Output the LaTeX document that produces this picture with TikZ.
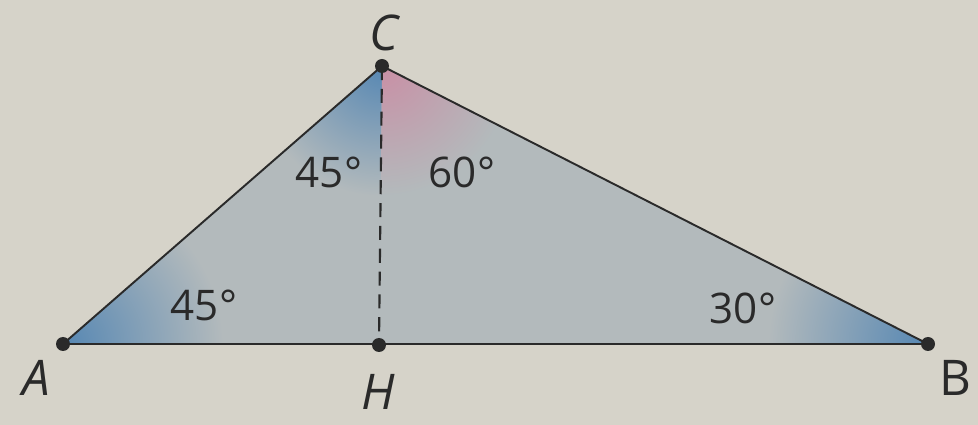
\documentclass[tikz,border=0pt]{standalone}
\usepackage{fontspec}
\setmainfont{Open Sans}
\usepackage{tikz}

\definecolor{paper}{HTML}{D6D3C9}
\definecolor{trifill}{HTML}{B3BABC}
\definecolor{angblue}{HTML}{5687B3}
\definecolor{angpink}{HTML}{C98FA5}
\definecolor{ink}{HTML}{2A2A2A}

\tikzset{
  pt/.style={circle, fill=ink, inner sep=0pt, minimum size=0.28cm},
  vlabel/.style={font=\fontsize{28}{32}\selectfont\itshape, text=ink},
  anglabel/.style={font=\fontsize{24}{28}\selectfont, text=ink}
}

\begin{document}
\begin{tikzpicture}[x=0.02cm,y=-0.02cm]
  \fill[paper] (0,0) rectangle (978,425);
  \useasboundingbox (0,0) rectangle (978,425);

  \coordinate (A) at (63,344);
  \coordinate (H) at (379,345);
  \coordinate (B) at (928,344);
  \coordinate (C) at (382,66);

  \fill[trifill] (A) -- (B) -- (C) -- cycle;
  \begin{scope}
    \clip (A) -- (B) -- (C) -- cycle;
    \shade[inner color=angblue, outer color=trifill] (A) circle[radius=3.2cm];
    \shade[inner color=angblue, outer color=trifill] (B) circle[radius=3.2cm];
    \begin{scope}
      \clip (C) -- (H) -- (A) -- cycle;
      \shade[inner color=angblue, outer color=trifill] (C) circle[radius=2.6cm];
    \end{scope}
    \begin{scope}
      \clip (C) -- (H) -- (B) -- cycle;
      \shade[inner color=angpink, outer color=trifill] (C) circle[radius=2.6cm];
    \end{scope}
  \end{scope}

  \draw[ink, line width=1.1pt, line join=round] (A) -- (B) -- (C) -- cycle;
  \draw[ink, line width=1.2pt, dash pattern=on 8pt off 5pt] (C) -- (H);

  \node[pt] (a) at (A) {};
  \node[pt] (b) at (B) {};
  \node[pt] (c) at (C) {};
  \node[pt] (h) at (H) {};

  \node[vlabel] (la) at (36,378) {A};
  \node[vlabel, font=\fontsize{28}{32}\selectfont] (lb) at (955,378) {B};
  \node[vlabel] (lc) at (384,33) {C};
  \node[vlabel] (lh) at (378,392) {H};

  \node[anglabel] (tca) at (329,172) {45°};
  \node[anglabel] (tcb) at (462,172) {60°};
  \node[anglabel] (ta) at (204,305) {45°};
  \node[anglabel] (tb) at (743,308) {30°};
\end{tikzpicture}
\end{document}
